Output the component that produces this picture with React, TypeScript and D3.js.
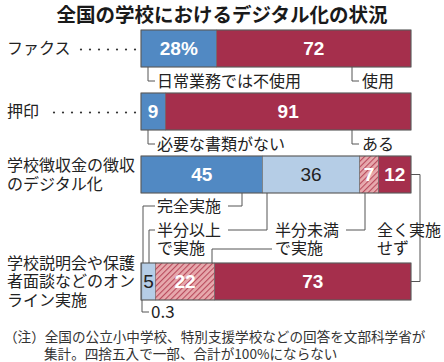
import React from "react";
import * as d3 from "d3";

const title = "全国の学校におけるデジタル化の状況";
const categoryLines = [
  ["ファクス"],
  ["押印"],
  ["学校徴収金の徴収", "のデジタル化"],
  ["学校説明会や保護", "者面談などのオン", "ライン実施"],
];
const faxValues = [28, 72];
const sealValues = [9, 91];
const feeValues = [45, 36, 7, 12];
const meetingValues = [0.3, 5, 22, 73];
const faxLabels = ["日常業務では不使用", "使用"];
const sealLabels = ["必要な書類がない", "ある"];
const levelLabels = [["完全実施"], ["半分以上", "で実施"], ["半分未満", "で実施"], ["全く実施", "せず"]];
const footnote = [
  "（注）全国の公立小中学校、特別支援学校などの回答を文部科学省が",
  "集計。四捨五入で一部、合計が100%にならない",
];

const W = 444;
const H = 362;
const BLUE = "#5189c3";
const LIGHT = "#b5cde6";
const RED = "#a52f4c";
const LINE = "#555";
const JP = "'Noto Sans CJK JP', 'Noto Sans', sans-serif";
const NUM = "'Liberation Sans', Arial, sans-serif";

const rowTops = [30, 93, 156, 263];
const barH = 37;

type Seg = { v: number; fill: string; label?: string; color?: string; bold?: boolean };

function MultiText({ lines, x, y, lh, size = 16 }: { lines: string[]; x: number; y: number; lh: number; size?: number }) {
  return (
    <text x={x} y={y} fontFamily={JP} fontSize={size} fill="#222">
      {lines.map((l, j) => (
        <tspan key={j} x={x} dy={j === 0 ? "0.36em" : lh}>
          {l}
        </tspan>
      ))}
    </text>
  );
}

export default function App() {
  const x = d3.scaleLinear().domain([0, 100]).range([141, 411]);

  const rows: Seg[][] = [
    [
      { v: faxValues[0], fill: BLUE, label: `${faxValues[0]}%`, color: "#fff", bold: true },
      { v: faxValues[1], fill: RED, label: `${faxValues[1]}`, color: "#fff", bold: true },
    ],
    [
      { v: sealValues[0], fill: BLUE, label: `${sealValues[0]}`, color: "#fff", bold: true },
      { v: sealValues[1], fill: RED, label: `${sealValues[1]}`, color: "#fff", bold: true },
    ],
    [
      { v: feeValues[0], fill: BLUE, label: `${feeValues[0]}`, color: "#fff", bold: true },
      { v: feeValues[1], fill: LIGHT, label: `${feeValues[1]}`, color: "#222", bold: false },
      { v: feeValues[2], fill: "url(#hatch)", label: `${feeValues[2]}`, color: "#fff", bold: true },
      { v: feeValues[3], fill: RED, label: `${feeValues[3]}`, color: "#fff", bold: true },
    ],
    [
      { v: meetingValues[0], fill: BLUE },
      { v: meetingValues[1], fill: LIGHT, label: `${meetingValues[1]}`, color: "#222", bold: false },
      { v: meetingValues[2], fill: "url(#hatch)", label: `${meetingValues[2]}`, color: "#fff", bold: true },
      { v: meetingValues[3], fill: RED, label: `${meetingValues[3]}`, color: "#fff", bold: true },
    ],
  ];

  const stacked = rows.map((segs) => {
    let acc = 0;
    return segs.map((s) => {
      const x0 = acc;
      acc += s.v;
      return { ...s, x0, x1: Math.min(acc, 100) };
    });
  });

  const dotsFor = (startX: number) => d3.range(135, startX, -9);

  const leader = (d: string, key: string) => (
    <path key={key} d={d} fill="none" stroke={LINE} strokeWidth={1} />
  );

  const b2 = rowTops[2] + barH;
  const t3 = rowTops[3];

  return (
    <svg width={W} height={H} style={{ position: "absolute", left: 0, top: 0 }}>
      <defs>
        <pattern id="hatch" patternUnits="userSpaceOnUse" width={4} height={4} patternTransform="rotate(45)">
          <rect width={4} height={4} fill="#e7a9ad" />
          <line x1={0} y1={0} x2={0} y2={4} stroke="#b84a5c" strokeWidth={2.2} />
        </pattern>
      </defs>
      <rect width={W} height={H} fill="#fff" />
      <text x={222} y={22} textAnchor="middle" fontFamily={JP} fontWeight={700} fontSize={19.5} fill="#1a1a1a">
        {title}
      </text>

      {categoryLines.map((lines, i) => {
        const cy = rowTops[i] + barH / 2;
        const lh = 18.5;
        const y0 = cy - ((lines.length - 1) * lh) / 2;
        return (
          <g key={i}>
            <MultiText lines={lines} x={7} y={y0} lh={lh} />
            {lines.length === 1 &&
              dotsFor(i === 0 ? 72 : 50).map((dx, k) => (
                <circle key={k} cx={dx} cy={cy + 1} r={1.1} fill="#333" />
              ))}
          </g>
        );
      })}

      {stacked.map((segs, i) => (
        <g key={i}>
          {segs.map((s, j) => (
            <rect
              key={j}
              x={x(s.x0)}
              y={rowTops[i]}
              width={Math.max(0.8, x(s.x1) - x(s.x0))}
              height={barH}
              fill={s.fill}
              stroke="#6a6a6a"
              strokeWidth={0.6}
            />
          ))}
          {segs.map((s, j) =>
            s.label ? (
              <text
                key={"t" + j}
                x={(x(s.x0) + x(s.x1)) / 2}
                y={rowTops[i] + barH / 2}
                dy="0.36em"
                textAnchor="middle"
                fontFamily={NUM}
                fontWeight={s.bold ? 700 : 400}
                fontSize={19}
                fill={s.color}
              >
                {s.label}
              </text>
            ) : null
          )}
          <rect x={x(0)} y={rowTops[i]} width={x(100) - x(0)} height={barH} fill="none" stroke="#555" strokeWidth={0.8} />
        </g>
      ))}

      {[faxLabels, sealLabels].map((labs, i) => {
        const top = rowTops[i] + barH;
        const ty = top + 14;
        return (
          <g key={"ann" + i}>
            {leader(`M148,${top}V${ty}H155`, "l1")}
            <MultiText lines={[labs[0]]} x={157} y={ty} lh={18} />
            {leader(`M352,${top}V${ty}H359`, "l2")}
            <MultiText lines={[labs[1]]} x={362} y={ty} lh={18} />
          </g>
        );
      })}

      <g>
        {leader(`M242,${b2}V206H228`, "a1")}
        {leader(`M155,206H143V${t3}`, "a2")}
        <MultiText lines={levelLabels[0]} x={157} y={206} lh={18} />

        {leader(`M267,${b2}V230H228`, "b1")}
        {leader(`M155,230H149V${t3}`, "b2")}
        <MultiText lines={levelLabels[1]} x={157} y={230} lh={18} />

        {leader(`M365,${b2}V230H346`, "c1")}
        {leader(`M272,249H212V${t3}`, "c2")}
        <MultiText lines={levelLabels[2]} x={275} y={230} lh={18} />

        {leader(`M411,${rowTops[2] + barH / 2}H420V${t3 + barH / 2}H411`, "d1")}
        <MultiText lines={levelLabels[3]} x={377} y={230} lh={18} />

        {leader(`M142,${t3 + barH}V312H149`, "e1")}
        <MultiText lines={[`${meetingValues[0]}`]} x={151} y={312} lh={18} size={17} />
      </g>

      <text x={4} y={337} dy="0.36em" fontFamily={JP} fontSize={13.6} fill="#333">{footnote[0]}</text>
      <text x={44} y={354} dy="0.36em" fontFamily={JP} fontSize={13.6} fill="#333">{footnote[1]}</text>
    </svg>
  );
}
